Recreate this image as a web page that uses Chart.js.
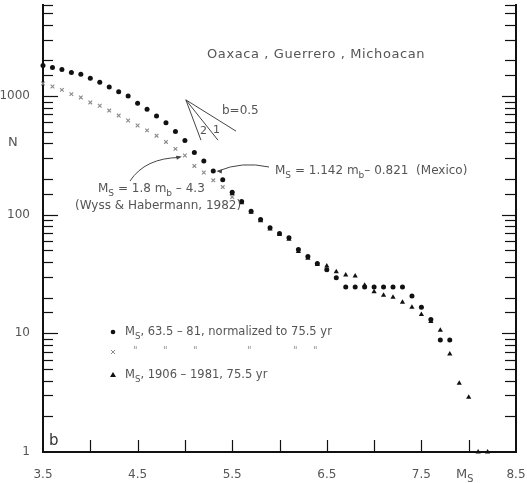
<!DOCTYPE html>
<html>
<head>
<meta charset="utf-8">
<script src="https://cdn.jsdelivr.net/npm/chart.js@4.4.0/dist/chart.umd.min.js"></script>
<style>
  html, body { margin: 0; padding: 0; background: #fff; }
</style>
</head>
<body>
<canvas id="grafico" width="527" height="483"></canvas>
<script>
// Ms catalogue 63.5-81, normalized to 75.5 yr (cumulative N)
const magsMs = [3.5, 3.6, 3.7, 3.8, 3.9, 4.0, 4.1, 4.2, 4.3, 4.4, 4.5, 4.6, 4.7, 4.8, 4.9,
  5.0, 5.1, 5.2, 5.3, 5.4, 5.5, 5.6, 5.7, 5.8, 5.9, 6.0, 6.1, 6.2, 6.3, 6.4, 6.5, 6.6,
  6.7, 6.8, 6.9, 7.0, 7.1, 7.2, 7.3, 7.4, 7.5, 7.6, 7.7, 7.8];
const countsMs = [1813, 1740, 1680, 1585, 1525, 1413, 1308, 1196, 1086, 1000, 869, 774, 681, 596, 504,
  422, 335, 284, 234, 197, 155, 129, 107, 91, 77.6, 69.5, 64, 51, 44.4, 38.8, 34.3, 29.5,
  24.6, 24.6, 24.6, 24.6, 24.6, 24.6, 24.6, 20.7, 16.6, 13.1, 8.8, 8.8];

// mb converted with Ms = 1.8 mb - 4.3, same period
const magsMb = [3.5, 3.6, 3.7, 3.8, 3.9, 4.0, 4.1, 4.2, 4.3, 4.4, 4.5, 4.6, 4.7, 4.8, 4.9,
  5.0, 5.1, 5.2, 5.3, 5.4, 5.5];
const countsMb = [1276, 1205, 1129, 1039, 975, 885, 830, 755, 685, 622, 566, 514, 464, 411, 359,
  316, 258, 227, 195, 171, 141];

// Ms 1906-1981, 75.5 yr
const magsHist = [5.5, 5.6, 5.7, 5.8, 5.9, 6.0, 6.1, 6.2, 6.3, 6.4, 6.5, 6.6, 6.7, 6.8,
  6.9, 7.0, 7.1, 7.2, 7.3, 7.4, 7.5, 7.6, 7.7, 7.8, 7.9, 8.0, 8.1, 8.2];
const countsHist = [150, 126, 105, 89, 76, 68, 62, 49, 43, 38, 37, 33, 31, 30.5,
  25.5, 22.4, 21, 20.2, 18.3, 16.6, 14.4, 12.6, 10.6, 6.7, 3.8, 2.9, 1, 1];

// slope fan: b = 0.5, 1, 2 from a common apex
const fanApex = { x: 5.01, y: 930 };
const fanEnds = [{ x: 5.54, y: 507 }, { x: 5.35, y: 425 }, { x: 5.17, y: 425 }];
const fanLabels = ['b=0.5', '1', '2'];

const xTickLabels = ['3.5', '4.5', '5.5', '6.5', '7.5', '8.5'];
const yTickLabels = ['1', '10', '100', '1000'];

const FONT = '"DejaVu Sans", sans-serif';
const INK = '#111';
const TXT = '#555';

const pts = (xs, ys) => xs.map((x, i) => ({ x: x, y: ys[i] }));

function rich(ctx, parts, x, y, size) {
  let cx = x;
  parts.forEach(([t, sub]) => {
    ctx.font = (sub ? size * 0.75 : size) + 'px ' + FONT;
    ctx.fillText(t, cx, sub ? y + size * 0.38 : y);
    cx += ctx.measureText(t).width;
  });
}

function arrowHead(ctx, x, y, ang) {
  ctx.beginPath();
  ctx.moveTo(x, y);
  ctx.lineTo(x - 6 * Math.cos(ang - 0.35), y - 6 * Math.sin(ang - 0.35));
  ctx.lineTo(x - 6 * Math.cos(ang + 0.35), y - 6 * Math.sin(ang + 0.35));
  ctx.closePath();
  ctx.fill();
}

// no label padding at the ends of the scales, the frame runs to the edges
function fixBox(w, h) {
  return s => {
    if (w !== null) s.width = w;
    if (h !== null) s.height = h;
    s.paddingTop = 0; s.paddingBottom = 0;
    s.paddingLeft = 0; s.paddingRight = 0;
  };
}

const decor = {
  id: 'decor',
  afterDraw(chart) {
    const ctx = chart.ctx;
    const xs = chart.scales.x, ys = chart.scales.y;
    const { left, right, bottom } = chart.chartArea;
    ctx.save();

    // inward tick marks
    ctx.strokeStyle = INK;
    ctx.lineWidth = 1.2;
    xs.ticks.forEach(t => {
      if (t.value <= xs.min || t.value >= xs.max) return;
      const px = Math.round(xs.getPixelForValue(t.value)) + 0.5;
      ctx.beginPath(); ctx.moveTo(px, bottom); ctx.lineTo(px, bottom - 12); ctx.stroke();
    });
    ys.ticks.forEach(t => {
      if (t.value <= 1) return;
      const py = Math.round(ys.getPixelForValue(t.value)) + 0.5;
      const major = Math.abs(Math.log10(t.value) % 1) < 1e-6;
      const len = major ? 15 : 10;
      ctx.beginPath(); ctx.moveTo(left, py); ctx.lineTo(left + len, py); ctx.stroke();
      ctx.beginPath(); ctx.moveTo(right, py); ctx.lineTo(right - (major ? 14 : 11), py); ctx.stroke();
    });

    ctx.fillStyle = TXT;
    ctx.textBaseline = 'middle';

    // title
    ctx.font = '13px ' + FONT;
    ctx.letterSpacing = '0.6px';
    ctx.fillText('Oaxaca , Guerrero , Michoacan', 207, 55);
    ctx.letterSpacing = '0px';

    // slope labels
    ctx.font = '12px ' + FONT;
    ctx.fillText(fanLabels[0], 222, 111);
    ctx.font = '11px ' + FONT;
    ctx.fillText(fanLabels[1], 213, 130);
    ctx.fillText(fanLabels[2], 200, 131);

    // conversion relations
    rich(ctx, [['M', 0], ['S', 1], [' = 1.142 m', 0], ['b', 1], ['\u2013 0.821  (Mexico)', 0]], 275, 171, 12);
    rich(ctx, [['M', 0], ['S', 1], [' = 1.8 m', 0], ['b', 1], [' \u2013 4.3', 0]], 98, 189, 12);
    ctx.font = '12px ' + FONT;
    ctx.fillText('(Wyss & Habermann, 1982)', 75, 206);

    // arrows
    ctx.strokeStyle = '#444';
    ctx.fillStyle = '#444';
    ctx.lineWidth = 1;
    const mx = xs.getPixelForValue(5.3) + 3, my = ys.getPixelForValue(234);
    ctx.beginPath(); ctx.moveTo(269, 167);
    ctx.quadraticCurveTo(242, 161, mx + 2, my);
    ctx.stroke();
    arrowHead(ctx, mx, my, Math.PI + 0.1);
    const wx = xs.getPixelForValue(5.0) - 3, wy = ys.getPixelForValue(316) + 1;
    ctx.beginPath(); ctx.moveTo(130, 181);
    ctx.quadraticCurveTo(145, 158, wx - 2, wy + 1);
    ctx.stroke();
    arrowHead(ctx, wx, wy, -0.25);

    // legend
    ctx.fillStyle = INK;
    ctx.beginPath(); ctx.arc(113, 332, 2.3, 0, Math.PI * 2); ctx.fill();
    ctx.strokeStyle = '#8a8a8a';
    ctx.beginPath(); ctx.moveTo(111, 350); ctx.lineTo(115, 354); ctx.moveTo(115, 350); ctx.lineTo(111, 354); ctx.stroke();
    ctx.beginPath(); ctx.moveTo(113, 372); ctx.lineTo(116, 377); ctx.lineTo(110, 377); ctx.closePath(); ctx.fill();
    ctx.fillStyle = TXT;
    rich(ctx, [['M', 0], ['S', 1], [', 63.5 \u2013 81, normalized to 75.5 yr', 0]], 125, 332, 11.5);
    rich(ctx, [['M', 0], ['S', 1], [', 1906 \u2013 1981, 75.5 yr', 0]], 125, 375, 11.5);
    ctx.fillStyle = '#999';
    ctx.font = '10px ' + FONT;
    [133, 163, 193, 247, 293, 313].forEach(px => ctx.fillText('"', px, 351));

    // axis names
    ctx.fillStyle = TXT;
    ctx.font = '13px ' + FONT;
    ctx.fillText('N', 8, 143);
    rich(ctx, [['M', 0], ['S', 1]], 456, 475, 13);
    ctx.fillStyle = '#333';
    ctx.font = '15px ' + FONT;
    ctx.fillText('b', 49, 441);
    ctx.restore();
  }
};

const fanSets = fanEnds.map(e => ({
  data: [fanApex, e], showLine: true, pointRadius: 0,
  borderColor: '#444', borderWidth: 1, clip: false
}));

new Chart(document.getElementById('grafico').getContext('2d'), {
  type: 'scatter',
  data: {
    datasets: [{
      label: 'Ms 63.5-81',
      data: pts(magsMs, countsMs),
      pointStyle: 'circle', pointRadius: 2.5,
      backgroundColor: INK, borderColor: INK, borderWidth: 0, clip: false
    }, {
      label: 'mb',
      data: pts(magsMb, countsMb),
      pointStyle: 'crossRot', pointRadius: 2.6,
      borderColor: '#8a8a8a', borderWidth: 1.1, clip: false
    }, {
      label: 'Ms 1906-1981',
      data: pts(magsHist, countsHist),
      pointStyle: 'triangle', pointRadius: 3,
      backgroundColor: INK, borderColor: INK, borderWidth: 0, clip: false
    }, ...fanSets]
  },
  options: {
    responsive: false,
    animation: false,
    layout: { padding: 0 },
    plugins: { legend: { display: false }, tooltip: { enabled: false } },
    scales: {
      x: {
        type: 'linear', min: 3.5, max: 8.5,
        grid: { display: false },
        border: { color: INK, width: 2 },
        ticks: {
          stepSize: 0.5, padding: 8, color: TXT, autoSkip: false, maxRotation: 0,
          font: { family: FONT, size: 12 },
          callback: v => xTickLabels.includes(Number(v).toFixed(1)) ? Number(v).toFixed(1) : ''
        },
        afterFit: fixBox(null, 31)
      },
      y: {
        type: 'logarithmic', position: 'left', min: 1, max: 5850,
        grid: { display: false },
        border: { color: INK, width: 2 },
        ticks: {
          padding: 5, color: TXT, autoSkip: false,
          font: { family: FONT, size: 12 },
          callback: v => yTickLabels.includes(String(v)) ? String(v) : ''
        },
        afterFit: fixBox(43, null)
      },
      yRight: {
        type: 'logarithmic', position: 'right', min: 1, max: 5850,
        grid: { display: false },
        border: { color: INK, width: 2 },
        ticks: { display: false },
        afterFit: fixBox(11, null)
      }
    }
  },
  plugins: [decor]
});
</script>
</body>
</html>
